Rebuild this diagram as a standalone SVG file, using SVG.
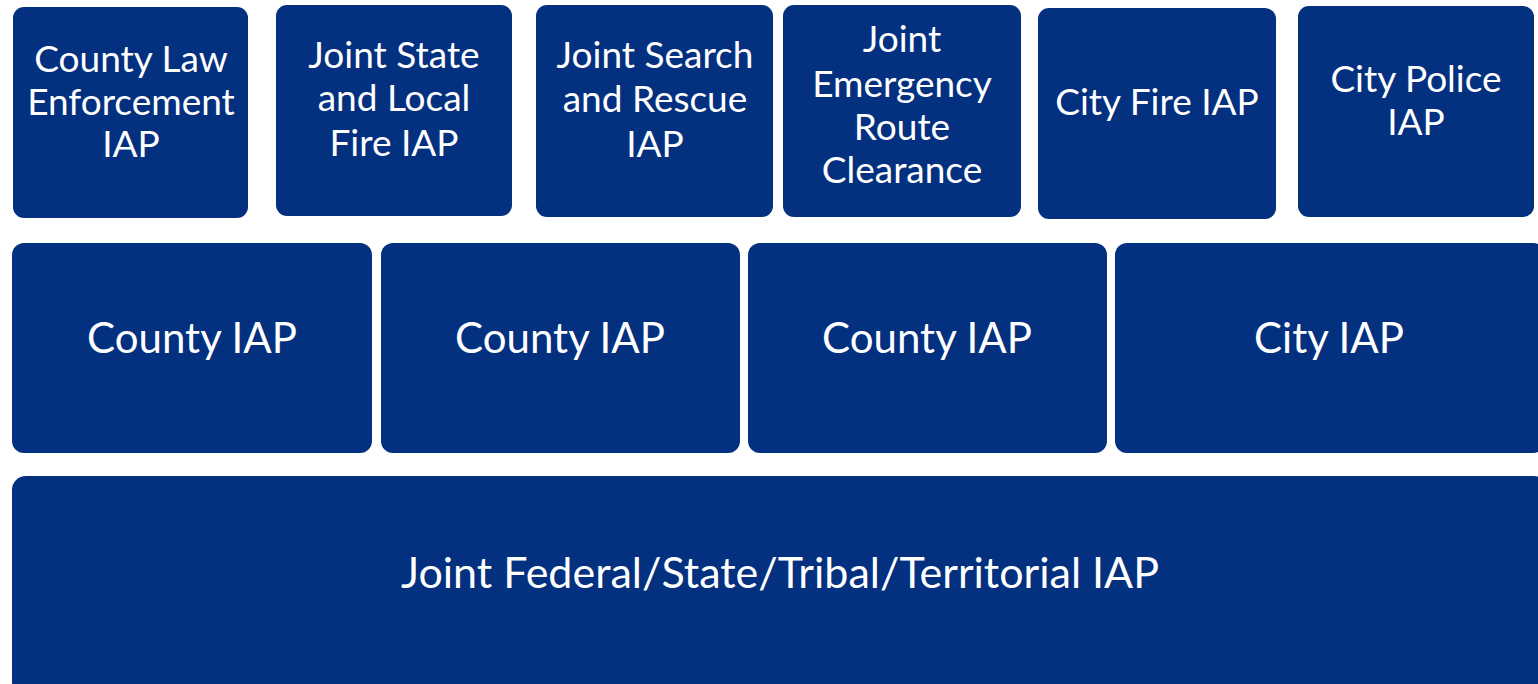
<svg xmlns="http://www.w3.org/2000/svg" width="1538" height="684" viewBox="0 0 1538 684">
<style>
.box{fill:#03307F;}
.t{font-family:Lato,"Liberation Sans",sans-serif;fill:#FFFFFF;text-anchor:middle;font-size:37px;}
.m{font-size:42px;}
.b{font-size:43px;}
</style>
<rect width="1538" height="684" fill="#FFFFFF"/>
<g id="n1"><rect class="box" x="13" y="7" width="235" height="211" rx="11"/>
<text class="t" x="131" y="72">County Law</text><text class="t" x="131" y="115">Enforcement</text><text class="t" x="131" y="157">IAP</text></g>
<g id="n2"><rect class="box" x="276" y="5" width="236" height="211" rx="11"/>
<text class="t" x="394" y="68">Joint State</text><text class="t" x="394" y="111">and Local</text><text class="t" x="394" y="156">Fire IAP</text></g>
<g id="n3"><rect class="box" x="536" y="5" width="237" height="212" rx="11"/>
<text class="t" x="655" y="68">Joint Search</text><text class="t" x="655" y="112">and Rescue</text><text class="t" x="655" y="157">IAP</text></g>
<g id="n4"><rect class="box" x="783" y="5" width="238" height="212" rx="11"/>
<text class="t" x="902" y="52">Joint</text><text class="t" x="902" y="97">Emergency</text><text class="t" x="902" y="140">Route</text><text class="t" x="902" y="183">Clearance</text></g>
<g id="n5"><rect class="box" x="1038" y="8" width="238" height="211" rx="11"/>
<text class="t" x="1157" y="115">City Fire IAP</text></g>
<g id="n6"><rect class="box" x="1298" y="6" width="236" height="211" rx="11"/>
<text class="t" x="1416" y="92">City Police</text><text class="t" x="1416" y="135">IAP</text></g>
<g id="n7"><rect class="box" x="12" y="243" width="360" height="210" rx="12"/>
<text class="t m" x="192" y="353">County IAP</text></g>
<g id="n8"><rect class="box" x="381" y="243" width="359" height="210" rx="12"/>
<text class="t m" x="560" y="353">County IAP</text></g>
<g id="n9"><rect class="box" x="748" y="243" width="359" height="210" rx="12"/>
<text class="t m" x="927" y="353">County IAP</text></g>
<g id="n10"><rect class="box" x="1115" y="243" width="430" height="210" rx="12"/>
<text class="t m" x="1329" y="353">City IAP</text></g>
<g id="n11"><rect class="box" x="12" y="476" width="1536" height="220" rx="14"/>
<text class="t b" x="780" y="588">Joint Federal/State/Tribal/Territorial IAP</text></g>
<g id="connectors"></g>
</svg>
